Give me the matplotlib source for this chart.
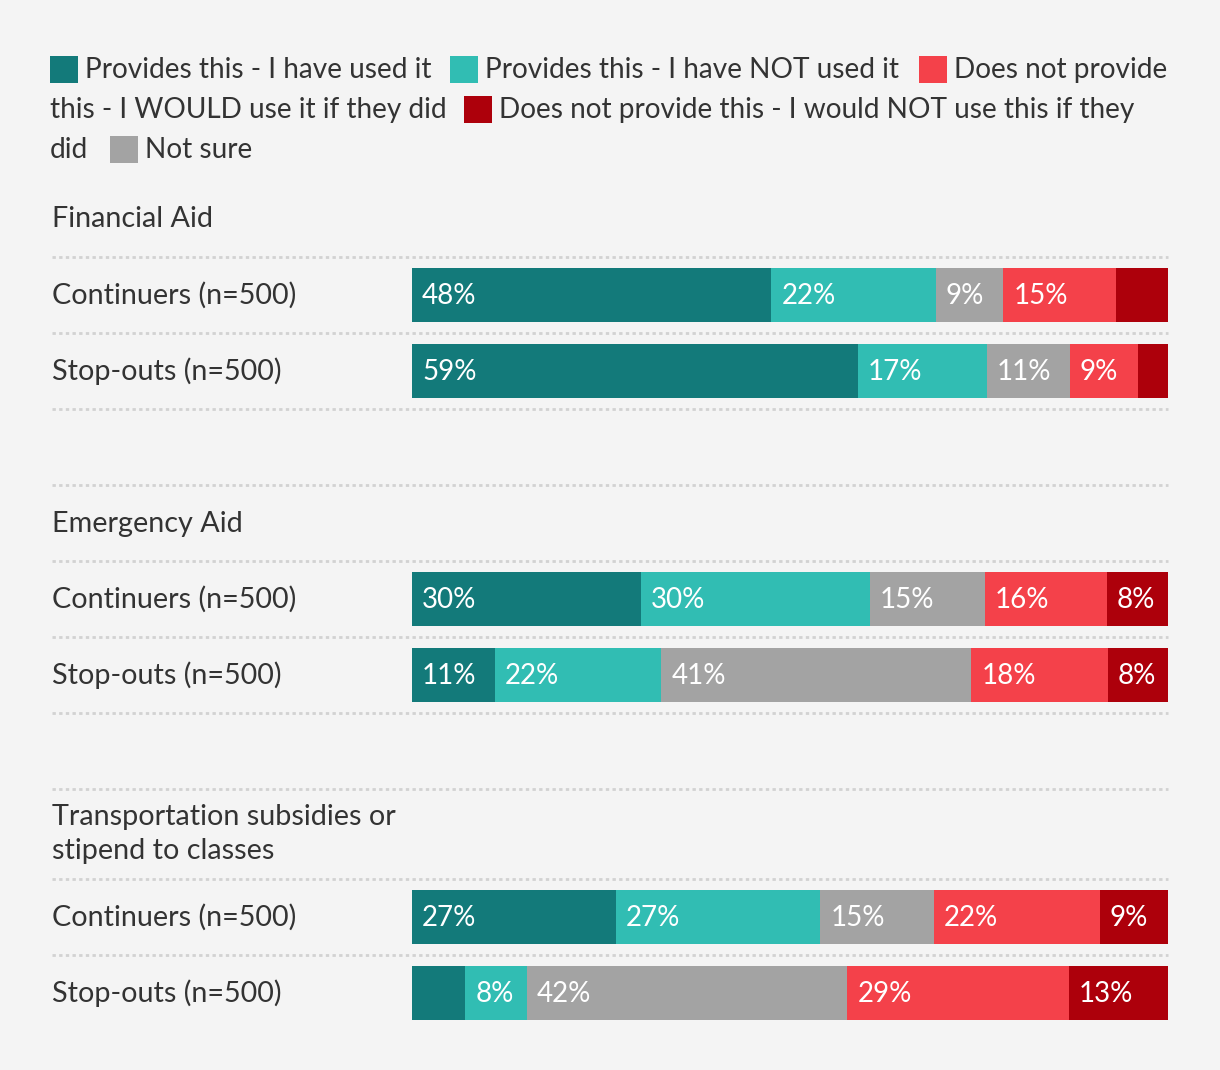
import numpy as np
import matplotlib
matplotlib.use("Agg")
import matplotlib.pyplot as plt
from matplotlib.patches import Rectangle
from matplotlib.lines import Line2D

# data
groups = ["Financial Aid", "Emergency Aid", "Transportation subsidies or\nstipend to classes"]
rows = ["Continuers (n=500)", "Stop-outs (n=500)"]
series = ["Provides this - I have used it", "Provides this - I have NOT used it",
          "Not sure", "Does not provide this - I WOULD use it if they did",
          "Does not provide this - I would NOT use this if they did"]
used = [48, 59, 30, 11, 27, 7]
not_used = [22, 17, 30, 22, 27, 8]
not_sure = [9, 11, 15, 41, 15, 42]
would_use = [15, 9, 16, 18, 22, 29]
would_not = [7, 4, 8, 8, 9, 13]

colors = ["#137a7a", "#31bdb3", "#a3a3a3", "#f4414a", "#ad000b"]
bg = "#f4f4f4"
txt = "#333333"
W, H = 1220, 1070
font = "Lato"
fs = 20.7
fs_leg = 20.2
fs_pct = 20

plt.rcParams['font.family'] = [font, 'DejaVu Sans']

fig = plt.figure(figsize=(W / 100, H / 100), dpi=100, facecolor=bg)

def fx(x):
    return x / W

def fy(y):
    return 1 - y / H

# bar axes: x from 412 to 1168 px, y in pixel units (top down)
ax = fig.add_axes([fx(412), 0, fx(1168) - fx(412), 1])
ax.set_facecolor(bg)
ax.set_xlim(0, 100)
ax.set_ylim(H, 0)
ax.axis("off")

vals = np.array([used, not_used, not_sure, would_use, would_not], dtype=float)
pct = vals / vals.sum(axis=0) * 100
centers = [295, 371, 599, 675, 917, 993]
left = np.zeros(len(centers))
for i in range(len(series)):
    ax.barh(centers, pct[i], left=left, height=54, color=colors[i], linewidth=0)
    for j, c in enumerate(centers):
        if vals[i, j] >= 8:
            ax.annotate(f"{int(vals[i, j])}%", (left[j], c + 1), xytext=(10, 0),
                        textcoords="offset pixels", color="white", fontsize=fs_pct,
                        va="center", ha="left")
    left += pct[i]

# row labels and group titles
group_y = [219, 524, 834]
for g, gy in zip(groups, group_y):
    fig.text(fx(52), fy(gy), g, fontsize=fs, color=txt, va="center", ha="left",
             linespacing=1.36)
for k, c in enumerate(centers):
    fig.text(fx(52), fy(c), rows[k % 2], fontsize=fs, color=txt, va="center", ha="left")

# dotted separators
for y in [257, 333, 409, 485, 561, 637, 713, 789, 879, 955]:
    fig.add_artist(Line2D([fx(52), fx(1168)], [fy(y), fy(y)], transform=fig.transFigure,
                          color="#d2d2d2", linewidth=2, linestyle=(0, (1.2, 1.2))))

# legend, wrapped like the original
leg_items = [
    (50, 70, colors[0], "Provides this - I have used it"),
    (450, 70, colors[1], "Provides this - I have NOT used it"),
    (919, 70, colors[3], "Does not provide"),
    (None, 110, None, "this - I WOULD use it if they did"),
    (464, 110, colors[4], "Does not provide this - I would NOT use this if they"),
    (None, 150, None, "did"),
    (110, 150, colors[2], "Not sure"),
]
for sx, ly, col, label in leg_items:
    if sx is None:
        tx = 50
    else:
        fig.add_artist(Rectangle((fx(sx), fy(ly + 13)), 28 / W, 27 / H,
                                 transform=fig.transFigure, color=col, linewidth=0))
        tx = sx + 35
    fig.text(fx(tx), fy(ly), label, fontsize=fs_leg, color=txt, va="center", ha="left")

fig.savefig("out.png", dpi=100, facecolor=bg)
